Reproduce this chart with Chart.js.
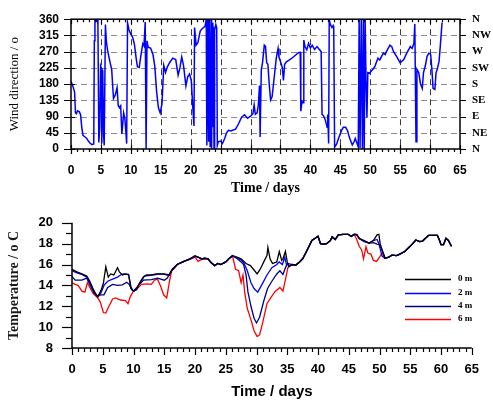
<!DOCTYPE html>
<html>
<head>
<meta charset="utf-8">
<script src="https://cdn.jsdelivr.net/npm/chart.js@4/dist/chart.umd.min.js"></script>
<style>
html,body{margin:0;padding:0;background:#fff;width:493px;height:404px;overflow:hidden;}
#c1{position:absolute;left:0;top:0;}
#c2{position:absolute;left:0;top:196px;}
</style>
</head>
<body>
<canvas id="c1" width="493" height="200"></canvas>
<canvas id="c2" width="493" height="208"></canvas>
<script>
// ---------- DATA ----------
const windDays = [0.0,0.3,0.6,0.75,0.9,1.1,1.4,1.6,1.8,2.0,2.3,2.6,2.9,3.2,3.5,3.8,3.9,4.0,4.2,4.4,4.5,4.65,4.8,4.95,5.05,5.15,5.3,5.45,5.55,5.75,5.9,6.1,6.4,6.8,7.1,7.4,7.7,7.9,8.1,8.3,8.5,8.8,9.0,9.2,9.3,9.45,9.7,10.0,10.3,10.6,10.9,11.1,11.4,11.7,12.0,12.2,12.4,12.55,12.7,12.9,13.3,13.7,14.0,14.3,14.6,14.9,15.2,15.5,15.8,16.1,16.5,17.0,17.5,17.9,18.2,18.5,18.8,19.2,19.5,19.8,20.1,20.3,20.55,20.65,20.9,21.2,21.6,22.0,22.4,22.6,22.7,22.9,23.0,23.1,23.25,23.4,23.5,23.6,23.7,23.8,23.9,24.0,24.2,24.35,24.45,24.6,25.0,25.3,25.7,26.0,26.3,26.7,27.0,27.5,28.0,28.5,29.0,29.5,30.0,30.4,30.6,30.8,31.1,31.3,31.5,31.6,31.8,32.0,32.3,32.5,32.7,32.9,33.1,33.35,33.6,33.9,34.3,34.6,34.75,35.0,35.3,35.5,35.7,36.0,36.5,37.0,37.5,38.0,38.3,38.4,38.6,38.8,38.9,39.1,39.4,39.7,40.0,40.3,40.7,41.1,41.5,41.8,41.95,42.2,42.5,42.8,42.9,43.05,43.15,43.3,43.6,43.8,43.9,44.05,44.4,44.6,44.9,45.2,45.5,45.9,46.2,46.5,46.7,47.0,47.3,47.5,47.8,48.0,48.15,48.3,48.5,48.7,48.85,49.0,49.15,49.3,49.45,49.6,49.9,50.2,50.5,50.8,51.0,51.3,51.6,51.9,52.2,52.5,52.7,53.0,53.3,53.6,53.9,54.4,55.0,55.6,56.1,56.7,57.0,57.3,57.45,57.65,57.8,58.1,58.4,58.7,58.9,59.2,59.5,59.8,60.1,60.3,60.5,60.8,61.0,61.2,61.5,61.7,62.0];
const windDeg = [188,175,158,100,98,106,103,95,60,38,34,30,22,16,12,14,300,360,355,358,345,18,60,230,225,15,220,40,10,345,300,275,250,220,140,150,170,120,115,120,42,100,85,40,15,350,330,318,310,290,250,228,226,262,292,286,352,0,300,282,280,262,230,160,115,100,125,232,212,228,240,252,248,205,225,255,232,175,200,208,190,130,64,337,288,295,328,335,340,360,10,360,20,360,5,360,0,350,60,340,0,330,345,335,10,20,22,15,30,45,52,50,52,55,70,88,95,85,91,98,122,96,100,122,176,33,221,239,288,285,239,235,185,136,145,190,252,279,255,243,226,190,235,242,247,253,260,267,268,105,132,128,302,284,275,293,280,288,276,284,276,270,96,92,80,60,96,15,360,347,337,342,335,5,14,24,38,51,60,60,51,33,24,11,20,29,15,6,360,3,360,0,360,0,360,185,87,212,210,217,222,230,239,252,247,257,266,262,270,279,288,284,270,257,239,248,266,284,279,293,347,20,221,212,181,168,212,230,257,266,262,221,168,165,212,221,243,284,351];
const windTicks = [0,45,90,135,180,225,270,315,360];
const compassLabels = ['N','NE','E','SE','S','SW','W','NW','N'];

const t0Days = [0,0.8,1.6,2.4,2.9,3.4,3.9,4.2,4.7,5.1,5.5,5.9,6.3,6.8,7.4,7.7,8.2,8.7,9.2,9.6,10.0,10.5,11.0,11.6,12.1,12.9,13.7,14.2,15.0,15.8,16.3,17.1,18.2,19.2,20.0,20.5,21.1,21.6,22.1,22.6,23.2,23.7,24.2,25.0,25.5,26.1,26.8,27.5,28.3,29.0,29.5,30.1,30.6,31.3,31.7,31.85,32.2,32.6,33.3,33.7,34.1,34.3,34.7,35.0,35.3,35.8,36.4,37.0,37.5,38.0,38.5,39.0,39.6,40.0,40.4,40.9,41.4,42.0,42.3,42.8,43.3,44.1,44.9,45.4,45.9,46.3,46.7,47.5,48.3,49.0,49.6,49.9,50.1,50.6,50.9,51.5,52.0,52.8,53.3,54.1,54.9,55.4,55.9,56.5,57.0,57.5,58.0,58.8,59.4,59.7,60.0,60.4,60.8,61.2,61.7];
const t0 = [15.55,15.3,15.1,14.9,14.4,13.7,13.1,12.9,13.5,14.2,15.8,14.8,15.1,15.0,15.7,15.3,15.0,15.1,15.0,13.7,13.45,13.6,14.25,14.8,15.0,15.0,15.1,15.1,15.1,15.0,15.55,16.0,16.3,16.55,16.85,16.7,16.55,16.6,16.55,16.2,15.9,16.1,16.0,16.25,16.55,16.85,16.7,16.55,16.1,15.9,15.55,15.1,15.55,16.4,16.85,17.65,16.55,16.1,16.25,17.25,16.4,16.55,17.25,16.25,15.8,16.0,15.95,16.25,16.55,17.1,17.7,18.3,18.55,18.7,18.0,17.95,18.0,18.3,18.65,18.4,18.85,18.9,18.9,18.7,18.9,18.9,18.5,18.3,18.05,18.3,18.85,18.9,18.0,17.1,16.6,16.7,16.9,16.85,17.0,17.25,17.7,18.0,18.35,18.2,18.25,18.55,18.8,18.8,18.8,18.4,17.9,17.9,18.5,18.3,17.75];

const t2Days = [0,0.8,1.6,2.4,2.9,3.6,4.2,4.7,5.2,5.8,6.6,7.4,7.9,8.4,9.2,9.6,10.0,10.5,11.0,11.8,13.4,14.2,15.0,15.8,16.3,17.1,18.2,19.2,20.0,20.5,21.1,21.6,22.1,22.6,23.2,23.7,24.2,25.0,25.5,26.1,26.8,27.5,28.0,28.5,29.1,29.6,30.2,30.9,31.7,32.5,33.3,33.7,34.2,34.6,34.9,35.1,35.8,36.4,37.0,37.5,38.0,38.5,39.0,39.6,40.0,40.4,40.9,41.4,42.0,42.3,42.8,43.3,44.1,44.9,45.4,45.9,46.3,46.7,47.5,48.3,49.0,49.6,49.9,50.4,50.9,51.5,52.0,52.8,53.3,54.1,54.9,55.4,55.9,56.5,57.0,57.5,58.0,58.8,59.4,59.7,60.0,60.4,60.8,61.2,61.7];
const t2 = [15.4,15.2,15.05,14.8,14.25,13.4,12.95,13.25,14.0,14.4,14.6,14.8,15.0,15.1,15.05,13.8,13.45,13.6,14.2,14.9,15.0,15.1,15.05,14.95,15.5,16.0,16.3,16.55,16.8,16.7,16.55,16.6,16.55,16.2,15.9,16.1,16.0,16.25,16.55,16.85,16.6,16.45,16.1,15.4,14.25,13.7,13.35,14.1,15.0,15.7,16.0,16.25,16.0,16.7,15.9,16.1,16.0,15.95,16.25,16.55,17.1,17.7,18.3,18.55,18.7,18.0,17.95,18.0,18.3,18.65,18.4,18.85,18.9,18.9,18.7,18.9,18.85,18.5,18.2,18.05,18.3,18.4,18.0,16.8,16.6,16.7,16.9,16.85,17.0,17.25,17.7,18.0,18.35,18.2,18.25,18.55,18.8,18.8,18.8,18.4,17.9,17.9,18.5,18.3,17.75];

const t4Days = [0,0.5,1.6,2.4,2.9,3.6,4.2,4.7,5.2,5.8,6.6,7.4,8.2,8.9,9.3,9.7,10.0,10.8,11.6,12.9,13.9,15.0,15.5,16.0,16.3,17.1,18.2,19.2,20.0,20.5,21.1,21.6,22.1,22.6,23.2,23.7,24.2,25.0,25.5,26.1,26.8,27.5,27.9,28.3,28.6,29.1,29.6,30.0,30.5,31.2,31.8,32.5,33.3,33.8,34.3,34.7,35.0,35.3,35.8,36.4,37.0,37.5,38.0,38.5,39.0,39.6,40.0,40.4,40.9,41.4,42.0,42.3,42.8,43.3,44.1,44.9,45.4,45.9,46.3,46.7,47.5,48.3,49.0,49.6,50.0,50.6,50.9,51.5,52.0,52.8,53.3,54.1,54.9,55.4,55.9,56.5,57.0,57.5,58.0,58.8,59.4,59.7,60.0,60.4,60.8,61.2,61.7];
const t4 = [14.85,14.5,14.5,14.7,14.1,13.25,12.95,13.1,13.1,13.8,14.1,14.0,14.05,14.3,14.1,13.6,13.45,14.0,14.5,14.55,14.7,14.5,14.7,15.25,15.5,16.0,16.3,16.55,16.8,16.7,16.55,16.6,16.55,16.2,15.9,16.1,16.0,16.25,16.55,16.85,16.6,16.25,16.0,15.0,13.4,12.0,10.85,10.4,10.95,12.55,13.7,14.4,15.1,15.4,15.05,15.7,16.1,15.8,16.0,15.95,16.25,16.55,17.1,17.7,18.3,18.55,18.7,18.0,17.95,18.0,18.3,18.65,18.4,18.85,18.9,18.9,18.7,18.9,18.85,18.5,18.25,18.05,18.1,17.95,17.9,17.1,16.6,16.7,16.9,16.85,17.0,17.25,17.7,18.0,18.35,18.2,18.25,18.55,18.8,18.8,18.8,18.4,17.9,17.9,18.5,18.3,17.75];

const t6Days = [0,0.5,1.0,1.6,2.1,2.5,2.9,3.4,4.2,4.6,5.1,5.5,6.0,6.6,7.1,7.9,8.7,9.1,9.5,10.0,10.8,11.3,12.3,12.9,13.4,13.9,14.4,14.9,15.4,15.8,16.2,16.6,17.1,18.2,19.2,20.0,20.5,21.1,21.6,22.1,22.6,23.2,23.7,24.2,25.0,25.5,26.1,26.6,27.1,27.5,27.8,28.1,28.5,29.1,29.6,30.1,30.5,31.0,31.7,32.3,33.0,33.8,34.3,34.7,35.1,35.6,36.4,37.0,37.5,38.0,38.5,39.0,39.6,40.0,40.4,40.9,41.4,42.0,42.3,42.8,43.3,44.1,44.9,45.4,45.9,46.3,46.7,47.1,47.4,47.8,48.1,48.6,49.0,49.5,50.0,50.4,50.9,51.5,52.0,52.8,53.3,54.1,54.9,55.4,55.9,56.5,57.0,57.5,58.0,58.8,59.4,59.7,60.0,60.4,60.8,61.2,61.7];
const t6 = [14.25,14.1,14.0,13.45,13.35,14.25,13.8,13.25,12.8,12.4,11.4,11.35,12.0,12.7,12.8,12.6,12.55,12.25,12.95,13.45,13.8,14.1,14.15,14.1,14.5,14.6,13.95,13.1,12.8,14.25,15.4,15.6,16.0,16.3,16.5,16.7,16.3,16.5,16.55,16.55,16.2,15.9,16.1,16.0,16.25,16.55,16.8,15.55,15.4,14.25,15.0,13.25,11.8,10.7,9.65,9.1,9.25,10.4,12.25,12.8,13.4,13.8,13.45,14.55,15.7,16.0,15.95,16.25,16.55,17.1,17.7,18.3,18.55,18.7,18.0,17.95,18.0,18.3,18.65,18.4,18.85,18.9,18.9,18.7,18.85,18.4,17.75,17.4,16.55,17.7,17.1,17.0,16.4,16.3,16.7,17.1,16.6,16.7,16.9,16.85,17.0,17.25,17.7,18.0,18.35,18.2,18.25,18.55,18.8,18.8,18.8,18.4,17.9,17.9,18.5,18.3,17.75];

const depthLabels = ['0 m','2 m','4 m','6 m'];
const depthColors = ['#000000','#0000ff','#000080','#ff0000'];
const dayTicks = [0,5,10,15,20,25,30,35,40,45,50,55,60,65];
const tempTicks = [8,10,12,14,16,18,20];

const pts = (xs, ys) => xs.map((x, i) => ({x: x, y: ys[i]}));

// ---------- TOP CHART: wind direction ----------
const topDecor = {
  id: 'topDecor',
  beforeDatasetsDraw(chart) {
    const {ctx, chartArea: a, scales} = chart;
    const xs = scales.x, ys = scales.y;
    ctx.save();
    ctx.lineWidth = 1;
    ctx.setLineDash([6, 4]);
    ctx.strokeStyle = '#8c8c8c';
    windTicks.slice(1, -1).forEach(v => {
      const y = Math.round(ys.getPixelForValue(v)) + 0.5;
      ctx.beginPath(); ctx.moveTo(a.left, y); ctx.lineTo(a.right, y); ctx.stroke();
    });
    ctx.strokeStyle = '#3a3a3a';
    dayTicks.slice(1, -1).forEach(v => {
      const x = Math.round(xs.getPixelForValue(v)) + 0.5;
      ctx.beginPath(); ctx.moveTo(x, a.top); ctx.lineTo(x, a.bottom); ctx.stroke();
    });
    ctx.restore();
  },
  afterDraw(chart) {
    const {ctx, chartArea: a, scales} = chart;
    const xs = scales.x, ys = scales.y;
    ctx.save();
    ctx.strokeStyle = '#000';
    ctx.lineWidth = 1.5;
    ctx.strokeRect(a.left, a.top, a.right - a.left, a.bottom - a.top);
    ctx.lineWidth = 1.2;
    for (let d = 0; d <= 65; d++) {
      const x = Math.round(xs.getPixelForValue(d)) + 0.5;
      const major = d % 5 === 0;
      ctx.beginPath();
      ctx.moveTo(x, a.top); ctx.lineTo(x, a.top + (major ? 5 : 3));
      ctx.moveTo(x, a.bottom - (major ? 4 : 0)); ctx.lineTo(x, a.bottom + (major ? 5 : 3));
      ctx.stroke();
    }
    windTicks.forEach(v => {
      const y = Math.round(ys.getPixelForValue(v)) + 0.5;
      ctx.beginPath();
      ctx.moveTo(a.left - 7, y); ctx.lineTo(a.left + 4, y);
      ctx.moveTo(a.right, y); ctx.lineTo(a.right + 6, y);
      ctx.stroke();
    });
    ctx.restore();
  }
};

new Chart(document.getElementById('c1'), {
  type: 'line',
  data: {
    datasets: [{
      data: pts(windDays, windDeg),
      borderColor: '#0000ff',
      borderWidth: 1.5,
      pointRadius: 0,
      tension: 0,
      fill: false
    }]
  },
  options: {
    responsive: false,
    animation: false,
    events: [],
    layout: {padding: {top: 15, left: 0, right: 0, bottom: 0}},
    plugins: {legend: {display: false}, tooltip: {enabled: false}},
    scales: {
      x: {
        type: 'linear', min: 0, max: 65,
        afterBuildTicks: s => { s.ticks = dayTicks.map(v => ({value: v})); },
        afterFit: s => { s.height = 51; },
        grid: {display: false, drawTicks: false},
        border: {display: false},
        ticks: {autoSkip: false, maxRotation: 0, padding: 14, color: '#000', font: {family: 'Liberation Sans', size: 12, weight: 'bold'}},
        title: {display: true, text: 'Time / days', color: '#000', padding: {top: 3, bottom: 3},
                font: {family: 'Liberation Serif', size: 14, weight: 'bold'}}
      },
      y: {
        type: 'linear', position: 'left', min: 0, max: 360,
        afterBuildTicks: s => { s.ticks = windTicks.map(v => ({value: v})); },
        afterFit: s => { s.width = 71; },
        grid: {display: false, drawTicks: false},
        border: {display: false},
        ticks: {autoSkip: false, padding: 12, color: '#000', font: {family: 'Liberation Sans', size: 12, weight: 'bold'}},
        title: {display: true, text: 'Wind direction / o', color: '#000', padding: {top: 7, bottom: 7},
                font: {family: 'Liberation Serif', size: 13, weight: 'normal'}}
      },
      y2: {
        type: 'linear', position: 'right', min: 0, max: 360,
        afterBuildTicks: s => { s.ticks = windTicks.map(v => ({value: v})); },
        afterFit: s => { s.width = 33; },
        grid: {display: false, drawTicks: false},
        border: {display: false},
        ticks: {autoSkip: false, padding: 12, color: '#000', font: {family: 'Liberation Serif', size: 11, weight: 'bold'},
                callback: (v) => compassLabels[windTicks.indexOf(v)]}
      }
    }
  },
  plugins: [topDecor]
});

// ---------- BOTTOM CHART: temperature ----------
const bottomDecor = {
  id: 'bottomDecor',
  afterDraw(chart) {
    const {ctx, chartArea: a, scales} = chart;
    const xs = scales.x, ys = scales.y;
    ctx.save();
    ctx.strokeStyle = '#000';
    ctx.lineWidth = 1.5;
    ctx.beginPath();
    ctx.moveTo(a.left, a.top); ctx.lineTo(a.left, a.bottom); ctx.lineTo(a.right, a.bottom);
    ctx.stroke();
    ctx.lineWidth = 1.2;
    for (let d = 0; d <= 65; d++) {
      const x = Math.round(xs.getPixelForValue(d)) + 0.5;
      const major = d % 5 === 0;
      ctx.beginPath(); ctx.moveTo(x, a.bottom); ctx.lineTo(x, a.bottom + (major ? 7 : 4)); ctx.stroke();
    }
    for (let t = 8; t <= 20; t++) {
      const y = Math.round(ys.getPixelForValue(t)) + 0.5;
      const major = t % 2 === 0;
      ctx.beginPath(); ctx.moveTo(a.left - (major ? 10 : 6), y); ctx.lineTo(a.left, y); ctx.stroke();
    }
    // legend
    const lx1 = 405, lx2 = 451, rows = [83, 97, 110, 123];
    ctx.font = 'bold 9px "Liberation Serif"';
    ctx.textBaseline = 'middle';
    ctx.textAlign = 'left';
    chart.data.datasets.forEach((ds, i) => {
      ctx.strokeStyle = ds.borderColor;
      ctx.lineWidth = 1.5;
      ctx.beginPath(); ctx.moveTo(lx1, rows[i] + 0.5); ctx.lineTo(lx2, rows[i] + 0.5); ctx.stroke();
      ctx.fillStyle = '#000';
      ctx.fillText(ds.label, 458, rows[i]);
    });
    ctx.restore();
  }
};

const tempSeries = [[t0Days, t0], [t2Days, t2], [t4Days, t4], [t6Days, t6]];

new Chart(document.getElementById('c2'), {
  type: 'line',
  data: {
    datasets: tempSeries.map((s, i) => ({
      label: depthLabels[i],
      data: pts(s[0], s[1]),
      borderColor: depthColors[i],
      borderWidth: 1.3,
      pointRadius: 0,
      tension: 0,
      fill: false
    }))
  },
  options: {
    responsive: false,
    animation: false,
    events: [],
    layout: {padding: {top: 12, left: 0, right: 10, bottom: 0}},
    plugins: {legend: {display: false}, tooltip: {enabled: false}},
    scales: {
      x: {
        type: 'linear', min: 0, max: 65,
        afterBuildTicks: s => { s.ticks = dayTicks.map(v => ({value: v})); },
        afterFit: s => { s.height = 56; },
        grid: {display: false, drawTicks: false},
        border: {display: false},
        ticks: {autoSkip: false, maxRotation: 0, padding: 14, color: '#000', font: {family: 'Liberation Sans', size: 13, weight: 'bold'}},
        title: {display: true, text: 'Time / days', color: '#000', padding: {top: 3, bottom: 3},
                font: {family: 'Liberation Sans', size: 15, weight: 'bold'}}
      },
      y: {
        type: 'linear', min: 8, max: 20,
        afterBuildTicks: s => { s.ticks = tempTicks.map(v => ({value: v})); },
        afterFit: s => { s.width = 72; },
        grid: {display: false, drawTicks: false},
        border: {display: false},
        ticks: {autoSkip: false, padding: 19, color: '#000', font: {family: 'Liberation Sans', size: 13, weight: 'bold'}},
        title: {display: true, text: 'Temperature / o C', color: '#1a1a1a', padding: {top: 6, bottom: 6},
                font: {family: 'Liberation Serif', size: 14, weight: 'bold'}}
      }
    }
  },
  plugins: [bottomDecor]
});
</script>
</body>
</html>
